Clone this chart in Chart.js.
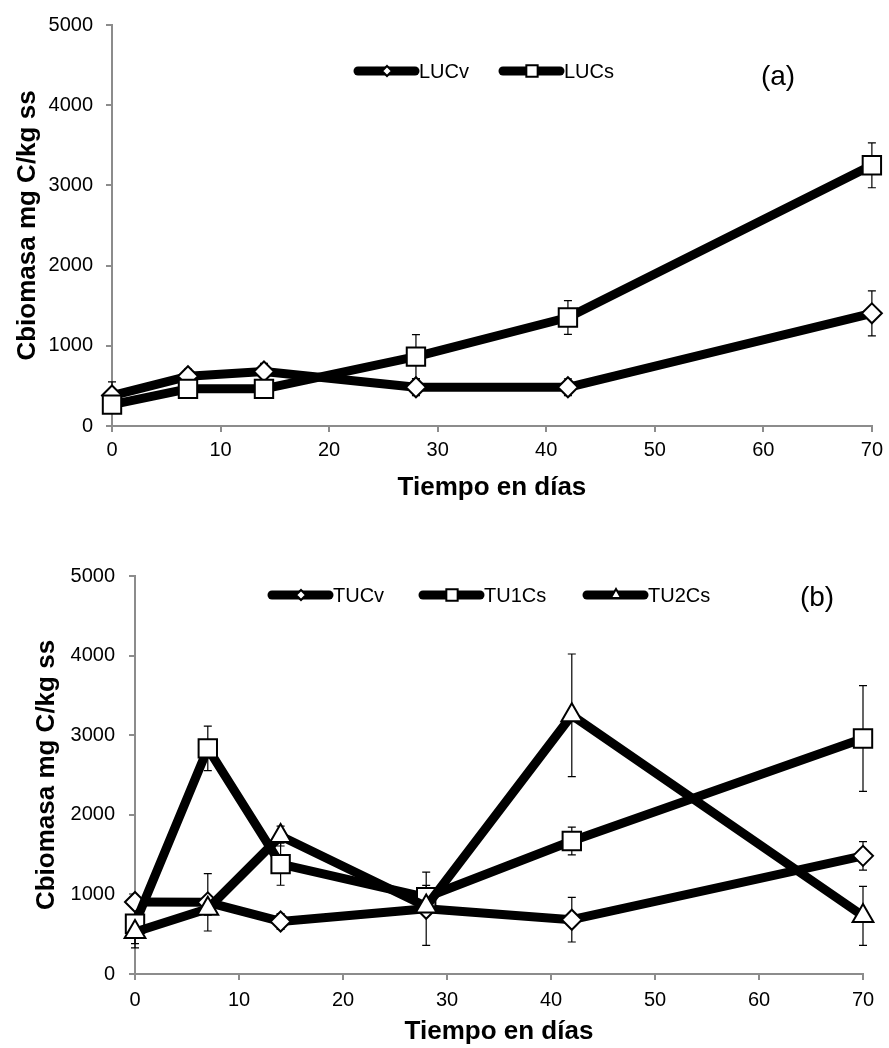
<!DOCTYPE html>
<html lang="es">

<head>
    <meta charset="UTF-8">
    <title>Cbiomasa vs Tiempo</title>
    <script src="https://cdn.jsdelivr.net/npm/chart.js"></script>
    <style>
        body { margin: 0; background: #fff; }
        .panel { position: absolute; left: 0; }
        #panelA { top: 0; }
        #panelB { top: 550px; }
    </style>
</head>

<body>
    <div class="panel" id="panelA"><canvas id="chartA" width="889" height="510"></canvas></div>
    <div class="panel" id="panelB"><canvas id="chartB" width="889" height="498"></canvas></div>

    <script>
        // sampling days and axis ticks
        const days = [0, 7, 14, 28, 42, 70];
        const xTicks = [0, 10, 20, 30, 40, 50, 60, 70];
        const yTicks = [0, 1000, 2000, 3000, 4000, 5000];

        // panel (a)
        const lucv = [380, 620, 680, 483, 483, 1405];
        const lucvErr = [170, 90, 100, 105, 105, 280];
        const lucs = [267, 463, 463, 865, 1353, 3251];
        const lucsErr = [80, 60, 60, 275, 210, 280];

        // panel (b)
        const tucv = [905, 900, 660, 820, 682, 1484];
        const tucvErr = [60, 360, 100, 460, 280, 180];
        const tu1cs = [632, 2834, 1380, 964, 1671, 2959];
        const tu1csErr = [250, 280, 265, 150, 175, 665];
        const tu2cs = [527, 819, 1733, 848, 3250, 730];
        const tu2csErr = [200, 80, 125, 100, 770, 370];

        Chart.defaults.font.family = '"Liberation Sans", Arial, sans-serif';
        Chart.defaults.color = '#000';

        const axisGrey = '#8c8c8c';

        function series(label, values, errors, style, order) {
            return {
                label: label,
                data: days.map((d, i) => ({ x: d, y: values[i] })),
                errors: errors,
                borderColor: '#000',
                borderWidth: 9,
                borderJoinStyle: 'round',
                tension: 0,
                fill: false,
                clip: false,
                pointStyle: style,
                pointRadius: style === 'rect' ? 13 : (style === 'triangle' ? 12 : 10),
                pointBackgroundColor: '#fff',
                pointBorderColor: '#000',
                pointBorderWidth: 2,
                order: order
            };
        }

        // error bars drawn under the lines and markers
        const errorBars = {
            id: 'errorBars',
            beforeDatasetsDraw(chart) {
                const ctx = chart.ctx;
                const x = chart.scales.x, y = chart.scales.y;
                ctx.save();
                ctx.strokeStyle = '#000';
                ctx.lineWidth = 1.2;
                chart.data.datasets.forEach(ds => {
                    ds.data.forEach((p, i) => {
                        const e = ds.errors[i];
                        const px = x.getPixelForValue(p.x);
                        const top = y.getPixelForValue(p.y + e);
                        const bot = y.getPixelForValue(p.y - e);
                        ctx.beginPath();
                        ctx.moveTo(px, top); ctx.lineTo(px, bot);
                        ctx.moveTo(px - 4, top); ctx.lineTo(px + 4, top);
                        ctx.moveTo(px - 4, bot); ctx.lineTo(px + 4, bot);
                        ctx.stroke();
                    });
                });
                ctx.restore();
            }
        };

        function drawMarker(ctx, style, x, y, r) {
            ctx.beginPath();
            if (style === 'rect') {
                const s = r * Math.SQRT1_2;
                ctx.rect(x - s, y - s, 2 * s, 2 * s);
            } else if (style === 'triangle') {
                ctx.moveTo(x, y - r);
                ctx.lineTo(x + r * 0.866, y + r * 0.5);
                ctx.lineTo(x - r * 0.866, y + r * 0.5);
                ctx.closePath();
            } else {
                ctx.moveTo(x, y - r); ctx.lineTo(x + r, y);
                ctx.lineTo(x, y + r); ctx.lineTo(x - r, y);
                ctx.closePath();
            }
            ctx.fillStyle = '#fff';
            ctx.fill();
            ctx.lineWidth = 2;
            ctx.strokeStyle = '#000';
            ctx.stroke();
        }

        // legend with line + marker, and the panel letter
        const lineLegend = {
            id: 'lineLegend',
            afterDraw(chart, args, opts) {
                const ctx = chart.ctx;
                ctx.save();
                chart.data.datasets.forEach((ds, i) => {
                    const x0 = opts.starts[i];
                    ctx.beginPath();
                    ctx.lineCap = 'round';
                    ctx.lineWidth = 9;
                    ctx.strokeStyle = '#000';
                    ctx.moveTo(x0, opts.y);
                    ctx.lineTo(x0 + 57, opts.y);
                    ctx.stroke();
                    const r = ds.pointStyle === 'rect' ? 8 : (ds.pointStyle === 'triangle' ? 6 : 5);
                    drawMarker(ctx, ds.pointStyle, x0 + 29, opts.y, r);
                    ctx.fillStyle = '#000';
                    ctx.font = '20px "Liberation Sans", Arial, sans-serif';
                    ctx.textBaseline = 'middle';
                    ctx.textAlign = 'left';
                    ctx.fillText(ds.label, x0 + 61, opts.y + 1);
                });
                ctx.font = '28px "Liberation Sans", Arial, sans-serif';
                ctx.textAlign = 'center';
                ctx.textBaseline = 'middle';
                ctx.fillText(opts.panel, opts.panelX, opts.panelY);
                ctx.restore();
            }
        };

        function makeScales(yWidth, xHeight, yTitlePad, xTitlePad, xTickPad, yTickPad) {
            const grid = { drawOnChartArea: false, drawTicks: true, tickLength: 6, color: axisGrey, lineWidth: 2 };
            const border = { display: true, color: axisGrey, width: 2 };
            return {
                x: {
                    type: 'linear',
                    min: 0,
                    max: 70,
                    afterBuildTicks: s => { s.ticks = xTicks.map(v => ({ value: v })); },
                    afterFit: s => { s.height = xHeight; },
                    grid: grid,
                    border: border,
                    ticks: { font: { size: 20 }, padding: xTickPad, maxRotation: 0, callback: v => String(v) },
                    title: {
                        display: true,
                        text: 'Tiempo en días',
                        font: { size: 26, weight: 'bold' },
                        padding: { top: 0, bottom: xTitlePad }
                    }
                },
                y: {
                    min: 0,
                    max: 5000,
                    afterBuildTicks: s => { s.ticks = yTicks.map(v => ({ value: v })); },
                    afterFit: s => { s.width = yWidth; },
                    grid: grid,
                    border: border,
                    ticks: { font: { size: 20 }, padding: yTickPad, callback: v => String(v) },
                    title: {
                        display: true,
                        text: 'Cbiomasa mg C/kg ss',
                        font: { size: 26, weight: 'bold' },
                        padding: { top: yTitlePad, bottom: 0 }
                    }
                }
            };
        }

        new Chart(document.getElementById('chartA'), {
            type: 'line',
            data: {
                datasets: [
                    series('LUCv', lucv, lucvErr, 'rectRot', 1),
                    series('LUCs', lucs, lucsErr, 'rect', 0)
                ]
            },
            options: {
                responsive: false,
                animation: false,
                layout: { padding: { left: 0, right: 13, top: 20, bottom: 0 } },
                scales: makeScales(112, 84, 12, 7, 6, 13),
                plugins: {
                    legend: { display: false },
                    tooltip: { enabled: false },
                    lineLegend: { y: 71, starts: [358, 503], panel: '(a)', panelX: 778, panelY: 77 }
                }
            },
            plugins: [errorBars, lineLegend]
        });

        new Chart(document.getElementById('chartB'), {
            type: 'line',
            data: {
                datasets: [
                    series('TUCv', tucv, tucvErr, 'rectRot', 2),
                    series('TU1Cs', tu1cs, tu1csErr, 'rect', 1),
                    series('TU2Cs', tu2cs, tu2csErr, 'triangle', 0)
                ]
            },
            options: {
                responsive: false,
                animation: false,
                layout: { padding: { left: 0, right: 26, top: 23, bottom: 0 } },
                scales: makeScales(135, 74, 31, 1, 8, 14),
                plugins: {
                    legend: { display: false },
                    tooltip: { enabled: false },
                    lineLegend: { y: 45, starts: [272, 423, 587], panel: '(b)', panelX: 817, panelY: 48 }
                }
            },
            plugins: [errorBars, lineLegend]
        });
    </script>
</body>

</html>
